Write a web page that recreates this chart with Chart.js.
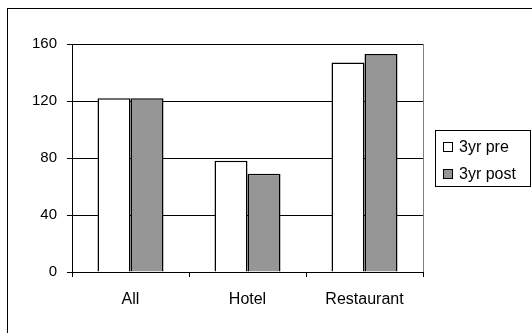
<!DOCTYPE html>
<html>
<head>
<meta charset="utf-8">
<script src="https://cdn.jsdelivr.net/npm/chart.js@4/dist/chart.umd.min.js"></script>
<style>
  html, body { margin: 0; padding: 0; background: #fff; }
  #wrap { position: relative; width: 532px; height: 333px; }
  #frame { position: absolute; left: 7px; top: 8px; right: -2px; bottom: -2px; border-left: 1px solid #000; border-top: 1px solid #000; }
  #legend { position: absolute; left: 435px; top: 130px; width: 94px; height: 55px; border: 1px solid #000;
    font: 16px "Liberation Sans", Arial, sans-serif; color: #000; }
  .item { position: absolute; left: 7px; height: 18px; line-height: 18px; white-space: nowrap; }
  .box { display: inline-block; width: 8px; height: 8px; border: 1px solid #000; margin-right: 6px; vertical-align: 0px; }
</style>
</head>
<body>
<div id="wrap">
  <canvas id="c" width="532" height="333"></canvas>
  <div id="frame"></div>
  <div id="legend"></div>
</div>
<script>
// categories and series
const categories = ["All", "Hotel", "Restaurant"];
const pre = [122, 78, 147];
const post = [122, 69, 153];
const seriesNames = ["3yr pre", "3yr post"];
const yTicks = [0, 40, 80, 120, 160];

const COL = { pre: "#ffffff", post: "#969696", line: "#000000", plotEdge: "#808080" };
const FONT = "'Liberation Sans', Arial, sans-serif";

Chart.defaults.font.family = FONT;
Chart.defaults.color = "#000";

// grey right edge of the plot area, like the old spreadsheet charts
const plotEdge = {
  id: "plotEdge",
  afterDraw(chart) {
    const { ctx, chartArea: a } = chart;
    ctx.save();
    ctx.strokeStyle = COL.plotEdge;
    ctx.lineWidth = 1;
    ctx.beginPath();
    ctx.moveTo(Math.round(a.right) + 0.5, a.top);
    ctx.lineTo(Math.round(a.right) + 0.5, a.bottom);
    ctx.stroke();
    ctx.restore();
  },
};

new Chart(document.getElementById("c"), {
  type: "bar",
  data: {
    labels: categories,
    datasets: [
      { label: seriesNames[0], data: pre, backgroundColor: COL.pre, borderColor: COL.line, borderWidth: 1.5 },
      { label: seriesNames[1], data: post, backgroundColor: COL.post, borderColor: COL.line, borderWidth: 1.5 },
    ],
  },
  options: {
    responsive: false, animation: false,
    categoryPercentage: 0.564, barPercentage: 1,
    layout: { padding: { top: 44, right: 109, bottom: 0, left: 0 } },
    plugins: { legend: { display: false }, tooltip: { enabled: false } },
    scales: {
      x: {
        grid: { drawOnChartArea: false, color: COL.line, tickLength: 5 },
        border: { color: COL.line, width: 1 },
        ticks: { font: { size: 16 }, padding: 13, color: "#000" },
        afterFit: (s) => { s.height = 61; },
      },
      y: {
        min: 0, max: 160,
        afterBuildTicks: (s) => { s.ticks = yTicks.map((v) => ({ value: v })); },
        grid: { color: COL.line, tickLength: 5 },
        border: { color: COL.line, width: 1 },
        ticks: { font: { size: 15 }, padding: 10, color: "#000" },
        afterFit: (s) => { s.width = 72; },
      },
    },
  },
  plugins: [plotEdge],
});

// legend box, drawn as plain text
const legend = document.getElementById("legend");
[COL.pre, COL.post].forEach((fill, i) => {
  const row = document.createElement("div");
  row.className = "item";
  row.style.top = (7 + i * 27) + "px";
  row.innerHTML = `<span class="box" style="background:${fill}"></span>${seriesNames[i]}`;
  legend.appendChild(row);
});
</script>
</body>
</html>
